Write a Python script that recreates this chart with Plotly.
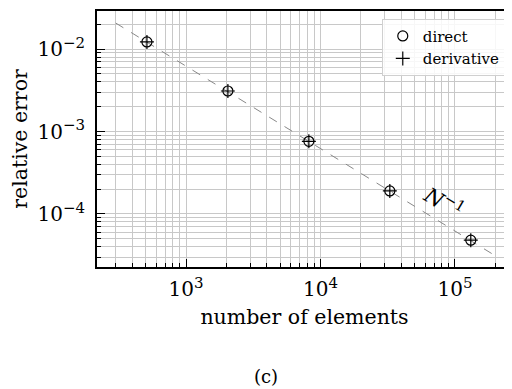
import plotly.graph_objects as go

n_elements = [512, 2048, 8192, 32768, 131072]
err_direct = [0.0122, 0.0031, 0.00076, 0.00019, 0.000048]
err_derivative = [0.0122, 0.0031, 0.00076, 0.00019, 0.000048]
ref_n = [300, 200000]
ref_err = [0.0207, 3.1e-5]

SUP = "<sup><span style='font-size:15px'>{}</span></sup>"
x_tickvals = [1e3, 1e4, 1e5]
x_ticktext = ["10" + SUP.format("3"), "10" + SUP.format("4"), "10" + SUP.format("5")]
y_tickvals = [1e-4, 1e-3, 1e-2]
y_ticktext = ["10" + SUP.format("−4"), "10" + SUP.format("−3"), "10" + SUP.format("−2")]

def minor_vals(lo, hi):
    vals = []
    for e in range(lo, hi):
        for m in range(2, 10):
            vals.append(m * 10.0 ** e)
    return vals

FONT = "DejaVu Serif"
GRID = "#c8c8c8"

fig = go.Figure()
fig.add_trace(go.Scatter(x=ref_n, y=ref_err, mode="lines",
                         line=dict(color="#888888", width=1, dash="dash"),
                         showlegend=False, hoverinfo="skip"))
fig.add_trace(go.Scatter(x=n_elements, y=err_direct, mode="markers", name="direct",
                         marker=dict(symbol="circle-open", size=10, color="black",
                                     line=dict(width=1.2, color="black"))))
fig.add_trace(go.Scatter(x=n_elements, y=err_derivative, mode="markers", name="derivative",
                         marker=dict(symbol="cross-thin-open", size=10, color="black",
                                     line=dict(width=1.2, color="black"))))

# the page body adds an 8px offset, so the figure is 8px smaller and margins shifted
fig.update_layout(
    width=504, height=381,
    margin=dict(l=89, r=0, t=3, b=122),
    paper_bgcolor="white", plot_bgcolor="white",
    font=dict(family=FONT, size=20, color="black"),
    legend=dict(x=0.985, y=0.97, xanchor="right", yanchor="top",
                bgcolor="rgba(255,255,255,0.85)", bordercolor="#d0d0d0", borderwidth=1,
                font=dict(size=15, family=FONT), tracegroupgap=0, itemwidth=30),
    xaxis=dict(type="log", range=[2.338, 5.424], automargin=False,
               tickvals=x_tickvals, ticktext=x_ticktext,
               tickfont=dict(size=20, family=FONT), ticklabelstandoff=3,
               ticks="inside", ticklen=8, tickwidth=1.2, tickcolor="black",
               showline=True, linewidth=2, linecolor="black", mirror=True,
               showgrid=True, gridcolor=GRID, gridwidth=1, zeroline=False,
               title=dict(text="number of elements", standoff=10,
                          font=dict(size=20.5, family=FONT)),
               minor=dict(tickvals=minor_vals(2, 6), ticks="inside", ticklen=4,
                          tickcolor="black", tickwidth=1,
                          showgrid=True, gridcolor=GRID, gridwidth=1)),
    yaxis=dict(type="log", range=[-4.644, -1.538], automargin=False,
               tickvals=y_tickvals, ticktext=y_ticktext,
               tickfont=dict(size=20, family=FONT), ticklabelstandoff=6,
               ticks="inside", ticklen=8, tickwidth=1.2, tickcolor="black",
               showline=True, linewidth=2, linecolor="black", mirror=False,
               showgrid=True, gridcolor=GRID, gridwidth=1, zeroline=False,
               title=dict(text="relative error", standoff=8,
                          font=dict(size=20.5, family=FONT)),
               minor=dict(tickvals=minor_vals(-5, -1), ticks="inside", ticklen=4,
                          tickcolor="black", tickwidth=1,
                          showgrid=True, gridcolor=GRID, gridwidth=1)),
)

fig.add_annotation(x=4.918, y=-3.858, xref="x", yref="y",
                   text="<i>N</i><sup><span style='font-size:15px'>−1</span></sup>",
                   showarrow=False, textangle=31,
                   font=dict(size=21, family=FONT))
fig.add_annotation(x=0.407, y=-0.428, xref="paper", yref="paper",
                   xanchor="center", yanchor="middle",
                   text="(c)", showarrow=False, font=dict(size=18, family=FONT))

fig.write_html("out.html")
